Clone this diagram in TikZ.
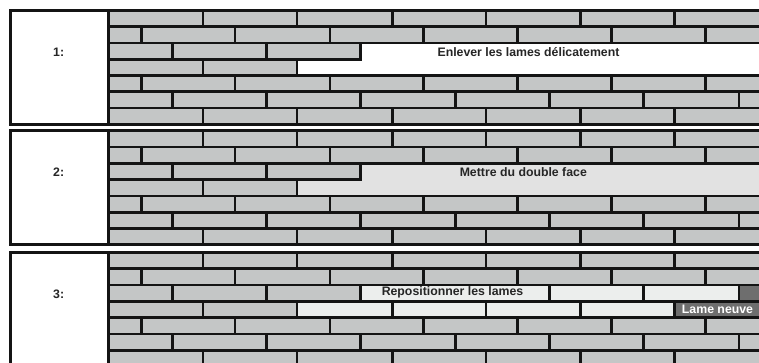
\documentclass[tikz,border=0pt]{standalone}
\usepackage{fontspec}
\setmainfont{Liberation Sans}
\usetikzlibrary{positioning}

\definecolor{brickgray}{HTML}{C4C6C6}
\definecolor{mortar}{HTML}{141414}
\definecolor{tapegray}{HTML}{E2E2E2}
\definecolor{laidgray}{HTML}{ECEEED}
\definecolor{newgray}{HTML}{6E6E6E}

\begin{document}
\begin{tikzpicture}[
    x=1pt, y=-1pt,
    font=\bfseries\fontsize{12.3}{14}\selectfont,
    wall/.style={fill=brickgray},
    mortarline/.style={draw=mortar, line width=2.7pt},
    frame/.style={draw=mortar, line width=2.7pt},
    gap/.style={fill=white},
    tape/.style={fill=tapegray},
    laid/.style={fill=laidgray},
    newbrick/.style={fill=newgray},
    steplabel/.style={inner sep=0pt, text=black!85},
    hint/.style={inner sep=0pt, text=black!85},
    newhint/.style={inner sep=0pt, text=white}
]

\useasboundingbox (0,0) rectangle (759,362);
\clip (0,0) rectangle (759,362);

% Three brick walls with their step label
\foreach \T [count=\p] in {10.3,130.7,252.5}{
\begin{scope}[shift={(0,\T)}]
    \fill[white] (10.3,0) rectangle (108.3,114.1);
    \fill[wall] (108.3,0) rectangle (770,114.1);
    \foreach \k in {1,...,6}
        \draw[mortarline] (108.3,16.3*\k) -- (770,16.3*\k);
    \foreach \r in {0,3,6}
        \foreach \x in {203,297,392.5,486,580.8,674.8}
            \draw[mortarline] (\x,16.3*\r) -- (\x,16.3*\r+16.3);
    \foreach \r in {1,4}
        \foreach \x in {141.7,235,330,423.5,517.5,611.5,705.5}
            \draw[mortarline] (\x,16.3*\r) -- (\x,16.3*\r+16.3);
    \foreach \r in {2,5}
        \foreach \x in {172.5,266.5,360.8,455.7,549.8,643.8,739}
            \draw[mortarline] (\x,16.3*\r) -- (\x,16.3*\r+16.3);
    \node[steplabel] (lbl\p) at (58.7,41.5) {\p:};
\end{scope}}

% Step 1: lames removed
\begin{scope}[shift={(0,10.3)}]
    \fill[gap] (360.8,32.6) -- (770,32.6) -- (770,65.2) -- (297,65.2)
        -- (297,48.9) -- (360.8,48.9) -- cycle;
    \draw[mortarline] (108.3,32.6) -- (770,32.6) (108.3,65.2) -- (770,65.2);
    \draw[mortarline] (290,48.9) -- (362.15,48.9);
    \draw[mortarline] (360.8,32.6) -- (360.8,48.9) (297,48.9) -- (297,65.2);
    \node[hint] (txt1) at (528.5,41.7) {Enlever les lames délicatement};
\end{scope}

% Step 2: double face tape
\begin{scope}[shift={(0,130.7)}]
    \fill[tape] (360.8,32.6) -- (770,32.6) -- (770,65.2) -- (297,65.2)
        -- (297,48.9) -- (360.8,48.9) -- cycle;
    \draw[mortarline] (108.3,32.6) -- (770,32.6) (108.3,65.2) -- (770,65.2);
    \draw[mortarline] (290,48.9) -- (362.15,48.9);
    \draw[mortarline] (360.8,32.6) -- (360.8,48.9) (297,48.9) -- (297,65.2);
    \node[hint] (txt2) at (523.3,41) {Mettre du double face};
\end{scope}

% Step 3: lames put back, one new
\begin{scope}[shift={(0,252.5)}]
    \fill[laid] (360.8,32.6) -- (770,32.6) -- (770,65.2) -- (297,65.2)
        -- (297,48.9) -- (360.8,48.9) -- cycle;
    \fill[newbrick] (739,32.6) rectangle (770,48.9);
    \fill[newbrick] (674.8,48.9) rectangle (770,65.2);
    \draw[mortarline] (108.3,32.6) -- (770,32.6) (108.3,65.2) -- (770,65.2);
    \draw[mortarline] (108.3,48.9) -- (770,48.9);
    \foreach \x in {360.8,549.8,643.8,739}
        \draw[mortarline] (\x,32.6) -- (\x,48.9);
    \foreach \x in {297,392.5,486,580.8,674.8}
        \draw[mortarline] (\x,48.9) -- (\x,65.2);
    \node[hint] (txt3) at (452.5,40.2) {Repositionner les lames};
    \node[newhint] (txt4) at (717.5,56.5) {Lame neuve};
\end{scope}

% Frames round each step
\foreach \T in {10.3,130.7,252.5}{
\begin{scope}[shift={(0,\T)}]
    \draw[frame] (10.3,0) rectangle (770,114.1);
    \draw[frame] (108.3,0) -- (108.3,114.1);
\end{scope}}

\end{tikzpicture}
\end{document}
